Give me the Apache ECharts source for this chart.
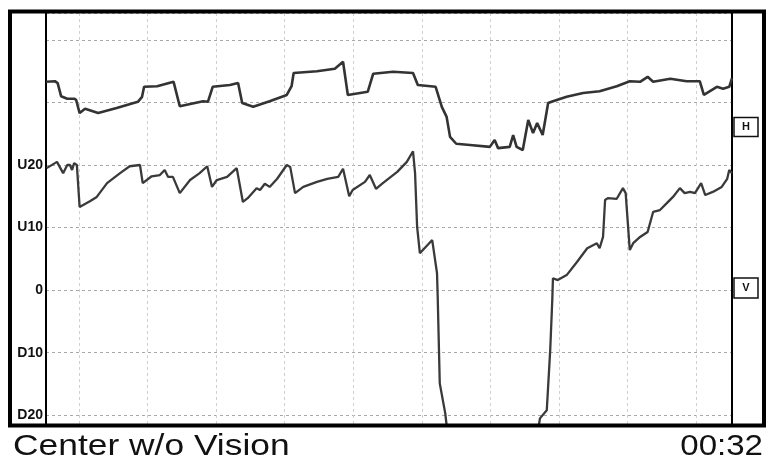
<!DOCTYPE html>
<html>
<head>
<meta charset="utf-8">
<script src="https://cdn.jsdelivr.net/npm/echarts@6/dist/echarts.min.js"></script>
<style>html,body{margin:0;padding:0;background:#fff;}#c{width:766px;height:463px;}</style>
</head>
<body>
<div id="c"></div>
<script>
// Horizontal (H) eye position trace: time (grid units) and degrees
var hTime = [-0.48,-0.35,-0.31,-0.26,-0.17,-0.07,-0.04,0.01,0.09,0.28,0.55,0.86,0.92,0.95,1.14,1.38,1.47,1.81,1.88,1.95,2.20,2.32,2.38,2.54,2.78,3.03,3.10,3.13,3.47,3.73,3.85,3.92,4.21,4.29,4.58,4.87,4.94,5.20,5.29,5.36,5.41,5.50,5.70,5.99,6.06,6.11,6.28,6.33,6.38,6.47,6.55,6.62,6.68,6.76,6.84,6.91,7.11,7.35,7.59,7.84,8.03,8.18,8.29,8.37,8.62,8.86,9.05,9.11,9.30,9.39,9.48,9.52];
var hValue = [33.3,33.4,33.1,31.0,30.6,30.6,30.4,28.3,29.0,28.3,29.1,30.1,30.9,32.5,32.6,33.3,29.4,30.2,30.1,32.5,32.8,33.1,29.9,29.3,30.2,31.2,32.6,34.7,35.0,35.4,36.5,31.2,31.7,34.6,34.9,34.7,32.8,32.5,29.3,27.7,24.5,23.4,23.2,22.9,24.0,22.7,22.9,24.8,22.9,22.4,27.2,25.1,26.7,24.8,29.9,30.2,30.9,31.5,31.8,32.6,33.4,33.3,34.1,33.3,33.8,33.4,33.4,31.2,32.5,32.2,32.5,33.9];
// Vertical (V) eye position trace
var vTime = [-0.47,-0.32,-0.23,-0.17,-0.13,-0.10,-0.07,-0.03,0.01,0.16,0.26,0.41,0.60,0.74,0.89,0.93,1.06,1.18,1.25,1.30,1.37,1.47,1.62,1.76,1.87,1.94,2.01,2.16,2.30,2.39,2.46,2.59,2.64,2.71,2.78,2.89,3.03,3.08,3.15,3.27,3.47,3.62,3.78,3.85,3.94,3.99,4.17,4.24,4.33,4.43,4.64,4.78,4.87,4.90,4.93,4.97,5.15,5.16,5.22,5.23,5.26,5.34,5.36,5.40,6.00,6.66,6.72,6.82,6.87,6.90,6.91,6.98,7.11,7.26,7.41,7.55,7.59,7.64,7.67,7.71,7.84,7.93,7.97,8.03,8.08,8.18,8.29,8.37,8.47,8.57,8.66,8.76,8.83,8.91,8.98,9.07,9.13,9.24,9.37,9.45,9.48,9.52];
var vValue = [19.5,20.5,18.7,20.0,20.0,19.2,20.3,20.0,13.3,14.2,14.9,17.1,18.7,19.8,20.0,17.1,18.2,18.4,19.2,18.1,18.1,15.5,17.6,18.7,19.8,16.5,17.6,18.1,19.5,14.1,14.7,16.3,16.0,17.0,16.5,17.8,20.0,19.7,15.5,16.5,17.3,17.8,18.1,19.4,15.0,16.0,17.3,18.4,16.2,17.1,18.9,20.5,22.2,18.7,10.1,5.9,8.0,8.3,2.7,-1.1,-14.9,-19.7,-21.6,-25,-25,-25,-20.5,-19.2,-9.6,-1.6,1.9,1.6,2.4,4.5,6.7,7.5,6.7,8.5,14.4,14.7,14.6,16.3,15.5,6.4,7.5,8.5,9.3,12.5,12.8,13.9,14.9,16.3,15.5,15.7,15.5,17.1,15.2,15.7,16.5,17.8,19.2,18.7];
// Tick label names for vertical degrees
var tickValues = [20, 10, 0, -10, -20];
var tickNames = ['U20', 'U10', '0', 'D10', 'D20'];
var traceNames = ['H', 'V'];
var titleText = 'Center w/o Vision';
var timeText = '00:32';

function zip(a, b) { return a.map(function (x, i) { return [x, b[i]]; }); }

var chart = echarts.init(document.getElementById('c'), null, { renderer: 'canvas' });
var option = {
  animation: false,
  backgroundColor: '#fff',
  grid: { left: 46, right: 34, top: 13, bottom: 39, containLabel: false },
  xAxis: {
    type: 'value', min: -0.48, max: 9.52, splitNumber: 10,
    axisLine: { show: false }, axisTick: { show: false }, axisLabel: { show: false },
    splitLine: { show: true, lineStyle: { color: '#d0d0d0', type: [3, 3], width: 1 } }
  },
  yAxis: [{
    type: 'value', min: -21.4, max: 44.3, splitNumber: 5,
    axisLine: { show: true, onZero: false, lineStyle: { color: '#000', width: 2 } },
    axisTick: { show: false },
    axisLabel: {
      margin: 3, color: '#111', fontFamily: 'Liberation Sans, Arial, sans-serif', fontSize: 14, fontWeight: 'bold',
      formatter: function (v) { var i = tickValues.indexOf(Math.round(v * 1000) / 1000); return i >= 0 ? tickNames[i] : ''; }
    },
    splitLine: { show: true, lineStyle: { color: '#a8a8a8', type: [3, 3], width: 1 } }
  }, {
    type: 'value', min: -21.4, max: 44.3, position: 'right',
    axisLine: { show: true, onZero: false, lineStyle: { color: '#000', width: 2 } },
    axisTick: { show: false }, axisLabel: { show: false }, splitLine: { show: false }
  }],
  series: [{
    name: traceNames[0], type: 'line', data: zip(hTime, hValue), showSymbol: false, clip: true,
    lineStyle: { color: '#333', width: 2.6 }
  }, {
    name: traceNames[1], type: 'line', data: zip(vTime, vValue), showSymbol: false, clip: true,
    lineStyle: { color: '#3a3a3a', width: 2.3 }
  }],
  graphic: [
    { type: 'rect', z: 100, shape: { x: 10, y: 11.5, width: 754, height: 414 }, style: { fill: null, stroke: '#000', lineWidth: 4 } },
    { type: 'rect', z: 100, shape: { x: 734, y: 117.5, width: 24, height: 19 }, style: { fill: '#fff', stroke: '#111', lineWidth: 1.5 } },
    { type: 'text', z: 101, x: 746, y: 127, style: { text: traceNames[0], font: 'bold 11px Liberation Sans, Arial, sans-serif', fill: '#111', align: 'center', verticalAlign: 'middle' } },
    { type: 'rect', z: 100, shape: { x: 734, y: 278, width: 24, height: 20 }, style: { fill: '#fff', stroke: '#111', lineWidth: 1.5 } },
    { type: 'text', z: 101, x: 746, y: 288, style: { text: traceNames[1], font: 'bold 11px Liberation Sans, Arial, sans-serif', fill: '#111', align: 'center', verticalAlign: 'middle' } },
    { type: 'text', z: 101, x: 13, y: 461, scaleX: 1.22, originX: 0, originY: 0, style: { text: titleText, font: '29px Liberation Sans, Arial, sans-serif', fill: '#111', align: 'left', verticalAlign: 'bottom' } },
    { type: 'text', z: 101, x: 763, y: 461, scaleX: 1.14, originX: 0, originY: 0, style: { text: timeText, font: '29px Liberation Sans, Arial, sans-serif', fill: '#111', align: 'right', verticalAlign: 'bottom' } }
  ]
};
chart.setOption(option);
</script>
</body>
</html>
